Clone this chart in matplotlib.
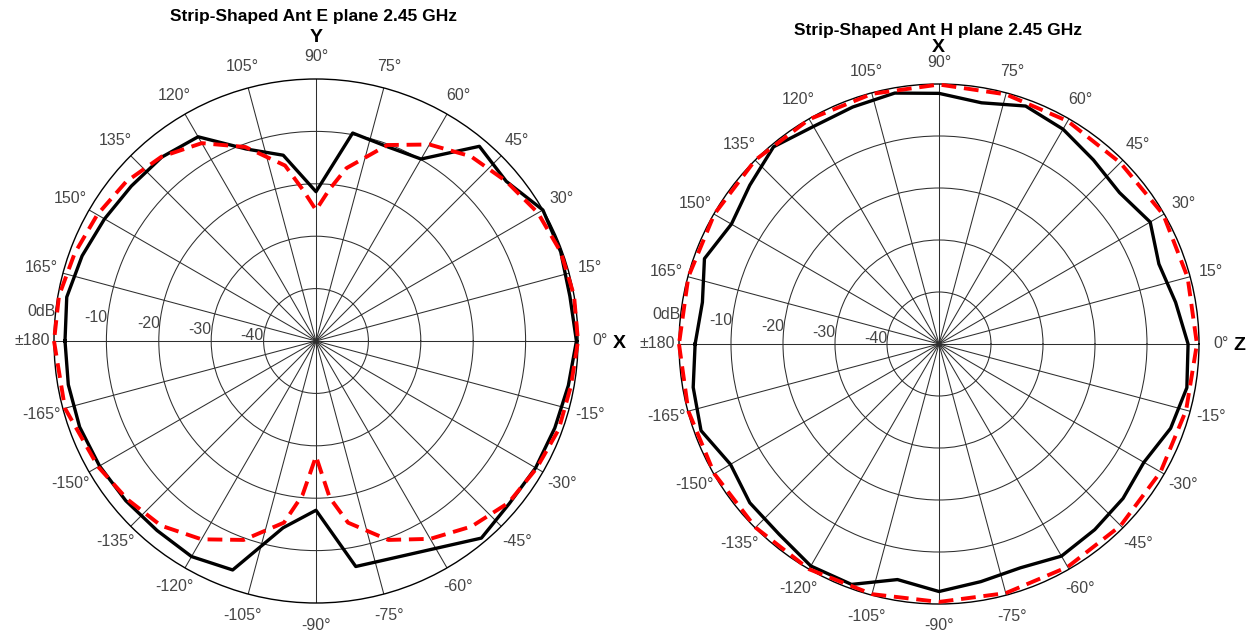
import numpy as np
import matplotlib
matplotlib.use('Agg')
import matplotlib.pyplot as plt

plt.rcParams['font.family'] = ['Liberation Sans', 'DejaVu Sans']

# E plane, measured (black), every 10 deg from -180 to 180
e_meas_deg = list(range(-180, 181, 10))
e_meas_db = [-2.1, -2.0, -2.0, -2.3, -2.6, -2.8, -2.5, -3.5, -13.8, -17.7,
             -6.3, -6.0, -4.3, -0.9, -1.8, -1.6, -1.5, -1.1, -0.3, -0.8,
             -0.3, 0.0, -2.6, -1.5, -9.9, -10.5, -9.7, -21.5, -14.0, -11.0,
             -5.0, -4.2, -4.0, -3.4, -2.5, -1.7, -2.1]

# E plane, simulated (red dashed)
e_sim_deg = [-180, -165, -150, -140, -130, -120, -110, -100, -95, -90, -85,
             -80, -70, -60, -50, -40, -30, -20, -10, 0, 10, 20, 30, 40, 50,
             60, 70, 80, 85, 90, 95, 100, 110, 120, 130, 140, 150, 160, 170, 180]
e_sim_db = [0.0, -0.4, -2.0, -3.0, -4.0, -6.3, -9.6, -14.8, -20.5, -28.0, -20.0,
            -14.8, -9.6, -6.4, -3.8, -2.0, -1.4, -0.7, -0.6, 0.0, 0.0, -0.3, -1.1,
            -2.6, -4.0, -6.7, -10.2, -16.5, -21.0, -25.0, -21.0, -16.0, -10.6,
            -6.4, -4.1, -2.7, -1.8, -1.0, -0.2, 0.0]

# H plane, measured (black), every 10 deg from -180 to 180
h_meas_deg = list(range(-180, 181, 10))
h_meas_db = [-3.1, -2.0, -1.3, -3.7, -2.5, -2.2, -0.7, -0.8, -4.0, -2.4,
             -3.6, -4.2, -2.9, -3.4, -3.8, -4.5, -2.6, -1.6, -2.1, -3.8,
             -5.0, -3.1, -4.7, -3.8, -2.3, -1.3, -2.9, -1.8, -1.0, -1.5,
             -1.7, -0.5, -2.5, -3.9, -2.0, -3.8, -3.1]

# H plane, simulated (red dashed), every 15 deg
h_sim_deg = list(range(-180, 181, 15))
h_sim_db = [0.0, -0.1, -0.1, -0.1, 0.0, -0.2, -0.4, -0.4, -0.5, -0.6, -0.8,
            -0.8, -0.4, -0.5, -0.2, -0.7, -0.5, -0.3, -0.1, -0.2, -0.1, 0.0,
            -0.1, -0.1, 0.0]

ring_db = [-40, -30, -20, -10, 0]
ring_labels = ['-40', '-30', '-20', '-10', '0dB']
spoke_deg = list(range(0, 360, 15))
spoke_labels = ['0°', '15°', '30°', '45°', '60°', '75°', '90°', '105°', '120°',
                '135°', '150°', '165°', '±180', '-165°', '-150°', '-135°',
                '-120°', '-105°', '-90°', '-75°', '-60°', '-45°', '-30°', '-15°']

W, H = 1252, 636
fig = plt.figure(figsize=(W / 100, H / 100), dpi=100)


def make_polar(cx, cy, rad):
    ax = fig.add_axes([(cx - rad) / W, (H - cy - rad) / H, 2 * rad / W, 2 * rad / H],
                      projection='polar')
    ax.set_ylim(-50, 0)
    ax.set_rgrids(ring_db[:-1], labels=[''] * 4)
    ax.set_thetagrids(spoke_deg, labels=[''] * len(spoke_deg))
    ax.grid(True, color='#2e2e2e', lw=0.75)
    ax.spines['polar'].set_color('black')
    ax.spines['polar'].set_linewidth(1.0)
    for a, lab in zip(spoke_deg, spoke_labels):
        ax.text(np.deg2rad(a), 4.2, lab, ha='center', va='center',
                fontsize=11.5, color='#454545', clip_on=False)
    for r, lab in zip(ring_db, ring_labels):
        ax.text(np.deg2rad(173.5), r, lab, ha='right', va='center',
                fontsize=11.5, color='#454545', clip_on=False)
    return ax


def draw(ax, mdeg, mdb, sdeg, sdb):
    ax.plot(np.deg2rad(mdeg), mdb, color='black', lw=2.4, clip_on=False, zorder=3)
    ax.plot(np.deg2rad(sdeg), sdb, color='red', lw=2.8, dashes=(3.8, 2.0),
            clip_on=False, zorder=4)


ax1 = make_polar(316, 341, 262)
draw(ax1, e_meas_deg, e_meas_db, e_sim_deg, e_sim_db)
ax2 = make_polar(939, 344, 260)
draw(ax2, h_meas_deg, h_meas_db, h_sim_deg, h_sim_db)

fig.text(314 / W, 1 - 17 / H, 'Strip-Shaped Ant E plane 2.45 GHz', ha='center',
         va='center', fontsize=12.5, fontweight='bold')
fig.text(316 / W, 1 - 38 / H, 'Y', ha='center', va='center', fontsize=14,
         fontweight='bold')
fig.text(619 / W, 1 - 343 / H, 'X', ha='center', va='center', fontsize=14,
         fontweight='bold')
fig.text(938 / W, 1 - 30 / H, 'Strip-Shaped Ant H plane 2.45 GHz', ha='center',
         va='center', fontsize=12.5, fontweight='bold')
fig.text(938 / W, 1 - 48 / H, 'X', ha='center', va='center', fontsize=14,
         fontweight='bold')
fig.text(1239 / W, 1 - 345 / H, 'Z', ha='center', va='center', fontsize=14,
         fontweight='bold')

plt.savefig('out.png', dpi=100)
